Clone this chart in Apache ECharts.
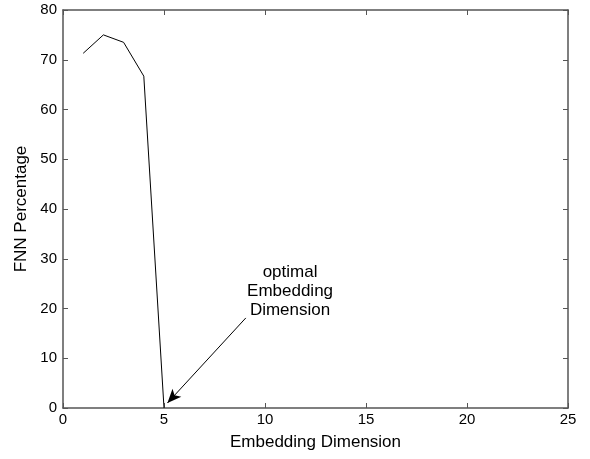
<!DOCTYPE html>
<html>
<head>
<meta charset="utf-8">
<style>
html, body { margin: 0; padding: 0; background: #fff; }
#main { width: 590px; height: 459px; }
</style>
<script src="https://cdn.jsdelivr.net/npm/echarts@6/dist/echarts.min.js"></script>
</head>
<body>
<div id="main"></div>
<script>
// FNN percentage against embedding dimension
var dims = [1, 2, 3, 4, 5];
var fnnPercent = [71.3, 75, 73.5, 66.7, 0];
var xTicks = [0, 5, 10, 15, 20, 25];
var yTicks = [0, 10, 20, 30, 40, 50, 60, 70, 80];

// arrow: from label down to the chosen dimension
var arrowFrom = [9.05, 18.1];
var arrowTo = [5.17, 1.0];
var noteAt = [11.24, 23.5];
var noteText = ['optimal', 'Embedding', 'Dimension'];

var font = 'Liberation Sans, Arial, sans-serif';
var axisCol = '#555';

var points = dims.map(function (d, i) { return [d, fnnPercent[i]]; });

function frameAxis(pos, isX) {
  return {
    type: 'value',
    position: pos,
    min: 0,
    max: isX ? xTicks[xTicks.length - 1] : yTicks[yTicks.length - 1],
    interval: isX ? 5 : 10,
    axisLine: { show: true, onZero: false, lineStyle: { color: axisCol, width: 1.5 } },
    axisTick: { show: true, inside: true, length: 5, lineStyle: { color: axisCol } },
    axisLabel: { show: false },
    splitLine: { show: false }
  };
}

var xMain = frameAxis('bottom', true);
xMain.name = 'Embedding Dimension';
xMain.nameLocation = 'middle';
xMain.nameGap = 26;
xMain.nameTextStyle = { fontFamily: font, fontSize: 17, color: '#000' };
xMain.axisLabel = { show: true, fontFamily: font, fontSize: 15, color: '#000', margin: 4 };

var yMain = frameAxis('left', false);
yMain.name = 'FNN Percentage';
yMain.nameLocation = 'middle';
yMain.nameGap = 32;
yMain.nameTextStyle = { fontFamily: font, fontSize: 17, color: '#000' };
yMain.axisLabel = { show: true, fontFamily: font, fontSize: 15, color: '#000', margin: 6 };

var option = {
  animation: false,
  backgroundColor: '#fff',
  grid: { left: 63, right: 22, top: 10, bottom: 51 },
  xAxis: [xMain, frameAxis('top', true)],
  yAxis: [yMain, frameAxis('right', false)],
  series: [{
    type: 'line',
    data: points,
    symbol: 'none',
    lineStyle: { color: '#000', width: 1 },
    markLine: {
      silent: true,
      symbol: ['none', 'arrow'],
      symbolSize: [9, 14],
      label: { show: false },
      lineStyle: { color: '#000', width: 1, type: 'solid' },
      data: [[{ coord: arrowFrom }, { coord: arrowTo }]]
    },
    markPoint: {
      silent: true,
      symbol: 'circle',
      symbolSize: 0,
      label: {
        show: true,
        position: 'inside',
        formatter: noteText.join('\n'),
        fontFamily: font,
        fontSize: 17,
        lineHeight: 19,
        color: '#000',
        align: 'center'
      },
      data: [{ coord: noteAt }]
    }
  }]
};

var chart = echarts.init(document.getElementById('main'));
chart.setOption(option);
</script>
</body>
</html>
